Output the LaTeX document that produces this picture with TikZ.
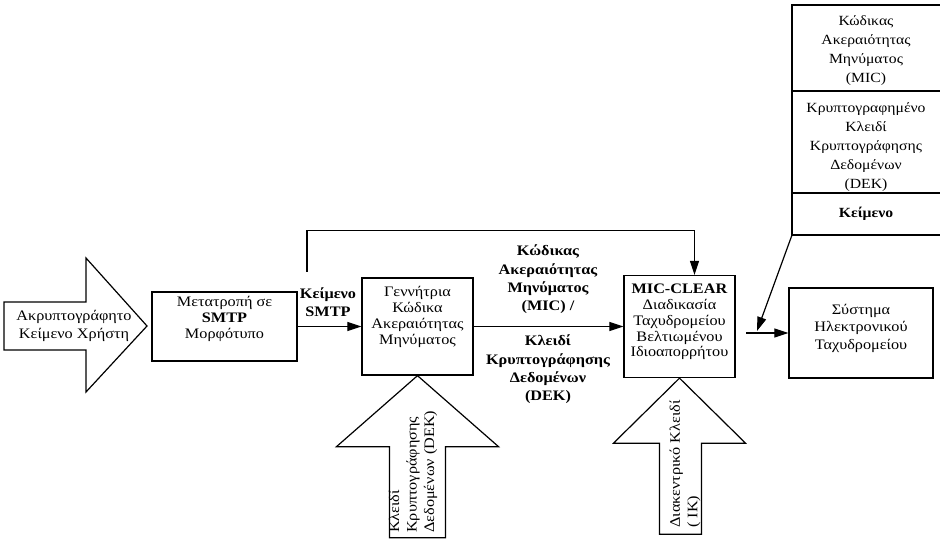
\documentclass[tikz,border=0pt]{standalone}
\usepackage{fontspec}
\setmainfont{Liberation Serif}[FakeStretch=1.12]
\usetikzlibrary{arrows.meta,calc}
\begin{document}
\begin{tikzpicture}[x=1pt,y=-1pt,
  every node/.style={font=\fontsize{14.5}{17.5}\selectfont, align=center, inner sep=0pt},
  tight/.style={font=\fontsize{14.5}{15.8}\selectfont},
  stacktext/.style={font=\fontsize{14}{19}\selectfont},
  heavy/.style={font=\fontsize{14.5}{18.3}\selectfont\bfseries},
  box/.style={draw, line width=1.3pt},
  outline/.style={line width=1.2pt, line join=miter},
  link/.style={line width=1.2pt, -{Triangle[length=14pt,width=9pt]}}
]
\useasboundingbox (0,0) rectangle (940,540);

% input arrow with the plain user text
\draw[outline] (4,302) -- (86,302) -- (86,258) -- (147,326) -- (86,392) -- (86,350) -- (4,350) -- cycle;
\node (src) at (74,326) {Ακρυπτογράφητο\\Κείμενο Χρήστη};

% conversion to SMTP format
\node[box, minimum width=145pt, minimum height=69pt] (conv) at (224.5,326.5) {};
\node[tight] (convtext) at (224.5,319) {Μετατροπή σε\\\textbf{SMTP}\\Μορφότυπο};

\node[heavy] (smtplbl) at (328,302) {Κείμενο\\SMTP};

% MIC generator
\node[box, minimum width=111pt, minimum height=97pt] (gen) at (417.5,326.5) {};
\node[tight] (gentext) at (417.5,317) {Γεννήτρια\\Κώδικα\\Ακεραιότητας\\Μηνύματος};

% MIC-CLEAR process
\node[box, minimum width=111pt, minimum height=102pt] (mic) at (679.5,326.5) {};
\node[tight] (mictext) at (679.5,322) {\textbf{MIC-CLEAR}\\Διαδικασία\\Ταχυδρομείου\\Βελτιωμένου\\Ιδιοαπορρήτου};

% mail system
\node[box, minimum width=144pt, minimum height=90pt] (sys) at (861,333) {};
\node (systext) at (861,328) {Σύστημα\\Ηλεκτρονικού\\Ταχυδρομείου};

% labels on the generator output
\node[heavy, anchor=south] (miclbl) at (548,314) {Κώδικας\\Ακεραιότητας\\Μηνύματος\\(MIC) /};
\node[heavy, anchor=north] (deklbl) at (548,335) {Κλειδί\\Κρυπτογράφησης\\Δεδομένων\\(DEK)};

% message layout stack
\draw[outline] (945,5) -- (792,5) -- (792,235) -- (945,235);
\draw[outline] (792,91) -- (945,91);
\draw[outline] (792,193) -- (945,193);
\coordinate (stackcorner) at (792,235);
\node[stacktext] (stack1) at (866,51) {Κώδικας\\Ακεραιότητας\\Μηνύματος\\(MIC)};
\node[stacktext] (stack2) at (866,147) {Κρυπτογραφημένο\\Κλειδί\\Κρυπτογράφησης\\Δεδομένων\\(DEK)};
\node[stacktext, font=\fontsize{14}{19}\selectfont\bfseries] (stack3) at (866,214) {Κείμενο};

% connectors
\coordinate (loopstart) at (307,272);
\coordinate (outstart) at (746,333);
\coordinate (merge) at (757,331);
\draw[link] (conv.east) -- (gen.west);
\draw[link] (gen.east) -- (mic.west);
\draw[link] (loopstart) |- ($(mic.north)+(15,-44)$) -- ($(mic.north)+(15,0)$);
\draw[link] (outstart) -- (sys.west);
\draw[link] (stackcorner) -- (merge);

% key inputs from below
\draw[outline] (gen.south) -- ++(-81,71) -- ++(53,0) -- ++(0,91) -- ++(56,0) -- ++(0,-91) -- ++(53,0) -- cycle;
\node[rotate=90, align=left, anchor=west] (dekkey) at (413,533) {Κλειδί\\Κρυπτογράφησης\\Δεδομένων (DEK)};

\draw[outline] (mic.south) -- ++(-66,65) -- ++(46,0) -- ++(0,91) -- ++(42,0) -- ++(0,-91) -- ++(44,0) -- cycle;
\node[rotate=90, align=left, anchor=west] (ikkey) at (685,528) {Διακεντρικό Κλειδί\\( IK)};
\end{tikzpicture}
\end{document}
